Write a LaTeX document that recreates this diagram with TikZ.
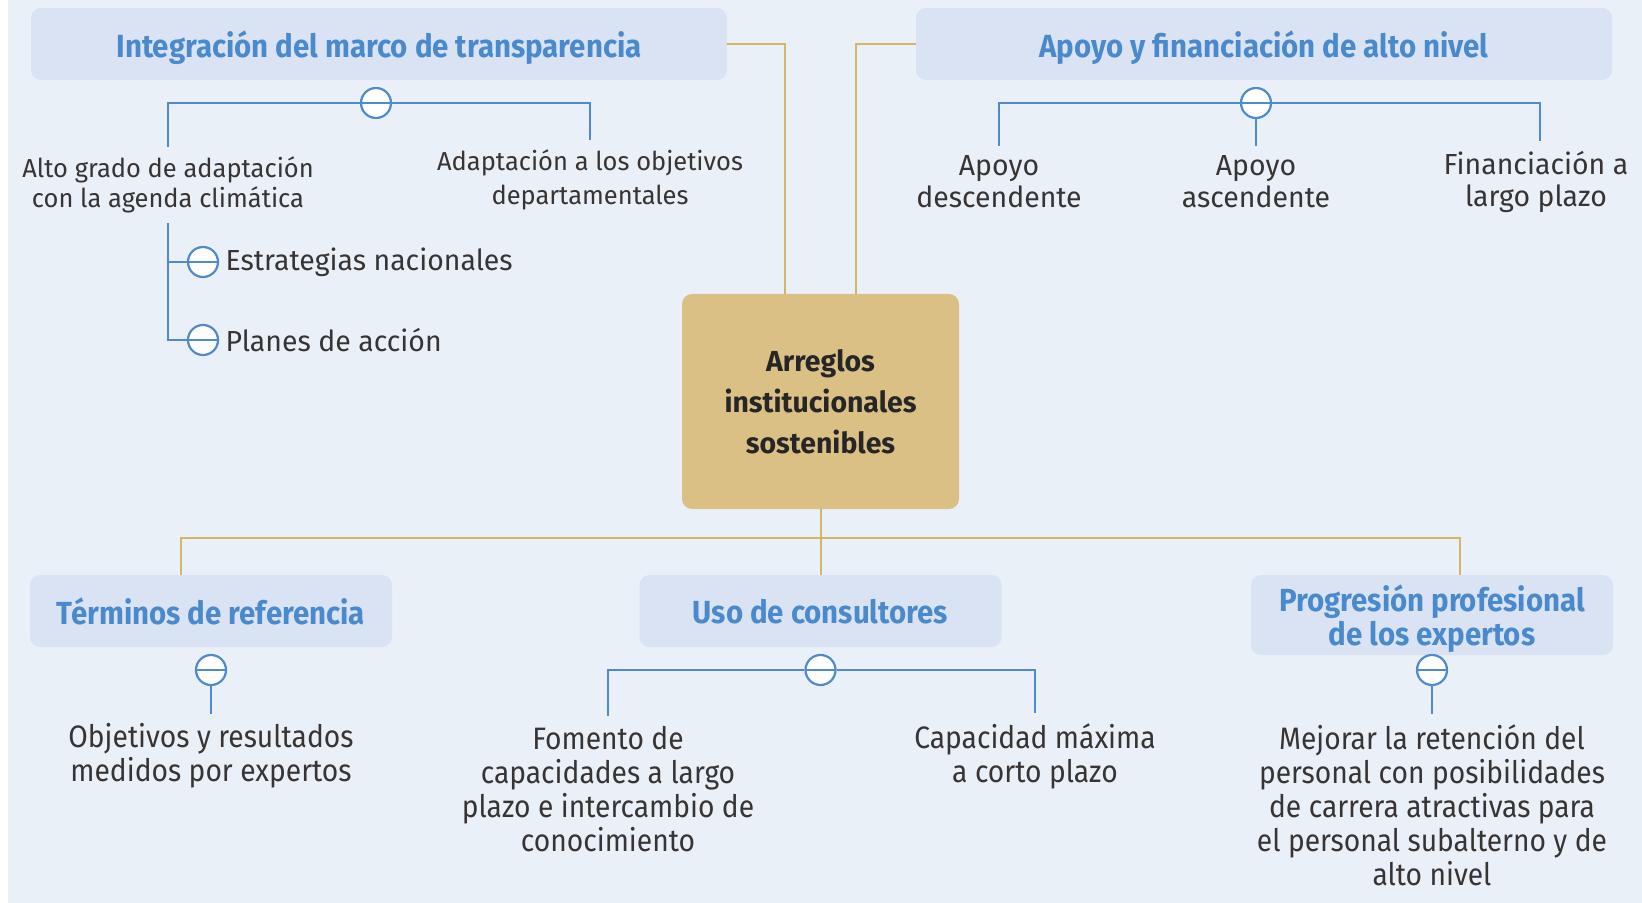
\documentclass[tikz,border=0pt]{standalone}
\usepackage{fontspec}
\setmainfont{Fira Sans}[FakeStretch=0.98]
\newfontfamily\hdfont{Fira Sans}[FakeStretch=0.92]
\newfontfamily\bigfont{Fira Sans}[FakeStretch=0.91]
\usetikzlibrary{positioning}
\definecolor{bgblue}{RGB}{234,240,248}
\definecolor{hdfill}{RGB}{217,227,243}
\definecolor{hdtext}{RGB}{74,138,204}
\definecolor{bline}{RGB}{78,138,204}
\definecolor{gline}{RGB}{214,180,106}
\definecolor{gfill}{RGB}{219,192,133}
\definecolor{txt}{RGB}{55,52,52}

\begin{document}
\begin{tikzpicture}[x=0.5pt, y=-0.5pt, every node/.style={inner sep=0pt}]
	\tikzstyle{hdr}=[rectangle, rounded corners=5pt, fill=hdfill, text=hdtext, align=center, text depth=0pt, font=\hdfont\bfseries\fontsize{16}{15}\selectfont]
	\tikzstyle{hdwide}=[hdr, minimum width=348pt, minimum height=36pt]
	\tikzstyle{hdnarrow}=[hdr, minimum width=181pt, minimum height=36pt]
	\tikzstyle{core}=[rectangle, rounded corners=5pt, fill=gfill, text=black!85, align=center, minimum width=138.5pt, minimum height=107.5pt, font=\bfseries\fontsize{14.5}{20.5}\selectfont]
	\tikzstyle{lbl}=[align=center, text=txt, outer sep=5pt, font=\fontsize{14.5}{16}\selectfont]
	\tikzstyle{lblsmall}=[lbl, font=\fontsize{13}{15}\selectfont]
	\tikzstyle{lblbig}=[lbl, font=\bigfont\fontsize{15.5}{17}\selectfont]
	\tikzstyle{item}=[text=txt, font=\fontsize{14.5}{16}\selectfont]
	\tikzstyle{minus}=[circle, draw=bline, line width=1.1pt, fill=white, minimum size=15pt,
		path picture={\draw[bline, line width=1.1pt] (path picture bounding box.west) -- (path picture bounding box.east);}]
	\tikzstyle{bl}=[draw=bline, line width=1pt]
	\tikzstyle{gl}=[draw=gline, line width=1pt]

	\fill[white] (0,0) rectangle (1642,903);
	\fill[bgblue] (8,0) rectangle (1642,903);
	\useasboundingbox (0,0) rectangle (1642,903);

	\node[core] (core) at (820.5,401.5) {Arreglos\\institucionales\\sostenibles};
	\node[hdwide] (hd1) at (379,44) {Integración del marco de transparencia};
	\node[hdwide] (hd2) at (1264,44) {Apoyo y financiación de alto nivel};
	\node[hdnarrow] (hd3) at (211,611) {Términos de referencia};
	\node[hdnarrow] (hd4) at (820.5,611) {Uso de consultores};
	\node[hdnarrow, minimum height=40pt] (hd5) at (1432,615) {Progresión profesional\\de los expertos};

	\coordinate (bus) at (820.5,538);
	\draw[gl] (hd1.east) -| ([xshift=-17.75pt]core.north);
	\draw[gl] (hd2.west) -| ([xshift=17.75pt]core.north);
	\draw[gl] (core.south) -- (hd4.north);
	\draw[gl] ([xshift=-15pt]hd3.north) |- (bus) -| ([xshift=14pt]hd5.north);

	\node[minus] (c1) at (376,103) {};
	\node[lblsmall] (t11) at (168,185) {Alto grado de adaptación\\con la agenda climática};
	\node[lblsmall, font=\fontsize{13}{17}\selectfont] (t12) at (590,180) {Adaptación a los objetivos\\departamentales};
	\draw[bl] (t11.north) |- (c1) -| (t12.north);
	\node[minus] (c11) at (203,262) {};
	\node[minus] (c12) at (203,340) {};
	\node[item, right=3pt of c11] (s1) {Estrategias nacionales};
	\node[item, right=3pt of c12] (s2) {Planes de acción};
	\draw[bl] (t11.south) |- (c12);
	\draw[bl] (c11) -- (c11 -| t11.south);

	\node[minus] (c2) at (1256,103) {};
	\node[lbl] (t21) at (999,182) {Apoyo\\descendente};
	\node[lbl] (t22) at (1256,182) {Apoyo\\ascendente};
	\node[lbl] (t23) at (1536,182) {Financiación a\\largo plazo};
	\draw[bl] (t21.north) |- (c2) -| ([xshift=2pt]t23.north);
	\draw[bl] (c2) -- (t22.north);

	\node[minus] (c3) at (211,670) {};
	\node[lblbig] (t31) at (211,756) {Objetivos y resultados\\medidos por expertos};
	\draw[bl] (c3) -- (t31.north);

	\node[minus] (c4) at (820.5,670) {};
	\node[lblbig] (t41) at (608,789) {Fomento de\\capacidades a largo\\plazo e intercambio de\\conocimiento};
	\node[lblbig] (t42) at (1035,756) {Capacidad máxima\\a corto plazo};
	\draw[bl] (t41.north) |- (c4) -| (t42.north);

	\node[minus] (c5) at (1432,670) {};
	\node[lblbig] (t51) at (1432,805) {Mejorar la retención del\\personal con posibilidades\\de carrera atractivas para\\el personal subalterno y de\\alto nivel};
	\draw[bl] (c5) -- (t51.north);
\end{tikzpicture}
\end{document}
